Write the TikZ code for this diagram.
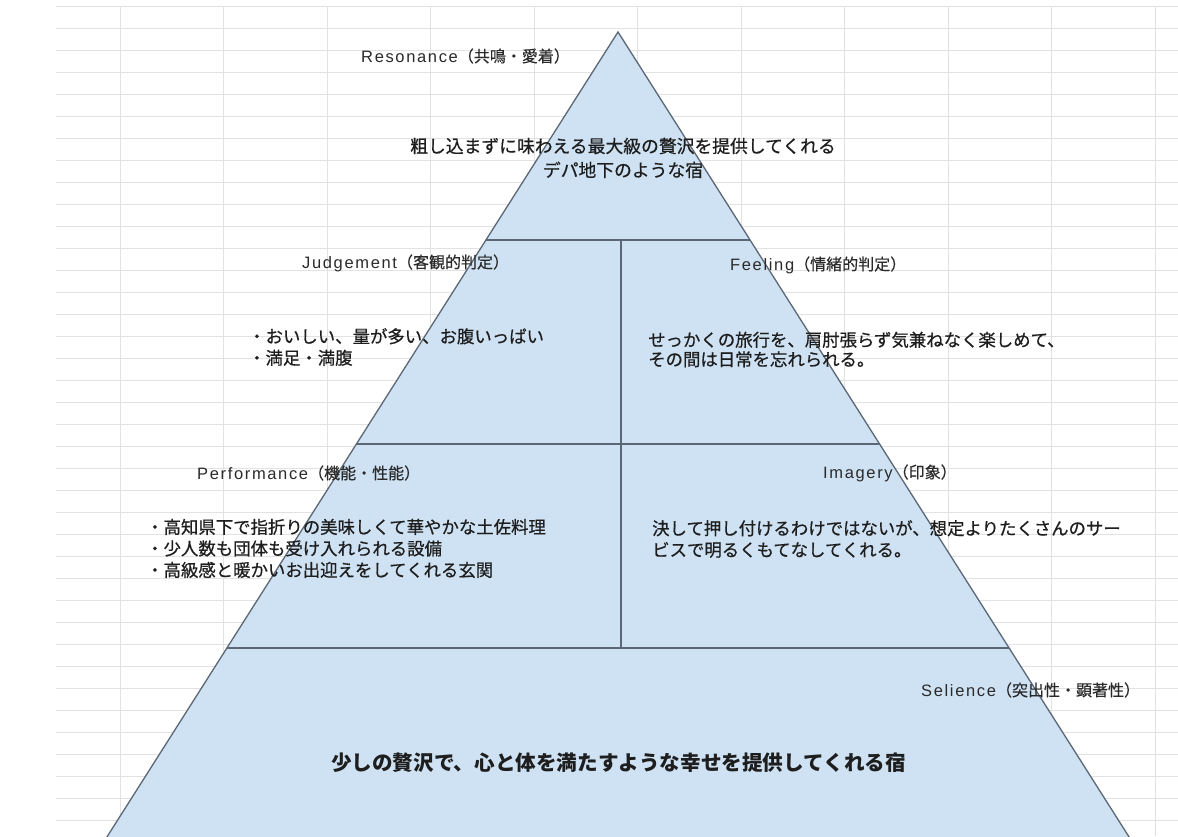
\documentclass[tikz,border=0pt]{standalone}
\usepackage{fontspec}
\setmainfont{Noto Sans CJK JP}
\newfontfamily\bodyfont{Noto Sans CJK JP}[FakeBold=0.6]
\newfontfamily\labcjk{Noto Sans CJK JP}[FakeBold=0.4]
\newfontfamily\lablat{Liberation Sans}[LetterSpace=10]
\newcommand{\lbl}[2]{{\fontsize{16.5}{18}\selectfont\lablat #1}{\fontsize{16}{18}\selectfont\labcjk #2}}
\definecolor{gridgray}{HTML}{E2E2E2}
\definecolor{pyrfill}{HTML}{CFE2F3}
\definecolor{pyrline}{HTML}{5B6775}
\definecolor{txt}{HTML}{1E1E1E}
\definecolor{labtxt}{HTML}{2A2A2A}
\tikzset{
  gridline/.style={draw=gridgray, line width=0.9pt},
  edge/.style={draw=pyrline, line width=1.3pt},
  lab/.style={inner sep=0pt, anchor=west, text=labtxt},
  body/.style={inner sep=0pt, anchor=west, align=left, text=txt, font=\fontsize{17.4}{21.5}\selectfont\bodyfont},
}
\begin{document}
\begin{tikzpicture}[x=1pt,y=-1pt]
\useasboundingbox (0,0) rectangle (1178,836);
\fill[white] (0,0) rectangle (1178,836);
% spreadsheet grid
\foreach \k in {0,...,37} \draw[gridline] (56,{6+22*\k}) -- (1178,{6+22*\k});
\foreach \k in {0,...,10} \draw[gridline] ({120+103.5*\k},6) -- ({120+103.5*\k},836);
% pyramid
\coordinate (apex) at (618,32);
\coordinate (bl) at (105,840);
\coordinate (br) at (1131,840);
\coordinate (l1) at (485.9,240); \coordinate (r1) at (750.1,240);
\coordinate (l2) at (356.4,444); \coordinate (r2) at (879.6,444);
\coordinate (l3) at (226.8,648); \coordinate (r3) at (1009.2,648);
\coordinate (mtop) at (621,240); \coordinate (mbot) at (621,648);
\fill[pyrfill] (apex) -- (br) -- (bl) -- cycle;
\draw[edge] (bl) -- (apex) -- (br);
\draw[edge] (l1) -- (r1);
\draw[edge] (l2) -- (r2);
\draw[edge] (l3) -- (r3);
\draw[edge] (mtop) -- (mbot);
% texts
\node[lab] (resL) at (361,56) {\lbl{Resonance}{（共鳴・愛着）}};
\node[body, anchor=center, align=center, font=\fontsize{17.8}{21.5}\selectfont\bodyfont] (resB) at (623,158) {粗し込まずに味わえる最大級の贅沢を提供してくれる\\[2.5pt]デパ地下のような宿};
\node[lab] (judL) at (302,263) {\lbl{Judgement}{（客観的判定）}};
\node[body] (judB) at (248,347) {・おいしい、量が多い、お腹いっぱい\\・満足・満腹};
\node[lab] (feelL) at (730,265) {\lbl{Feeling}{（情緒的判定）}};
\node[body, font=\fontsize{17.4}{19.5}\selectfont\bodyfont] (feelB) at (648,349.5) {せっかくの旅行を、肩肘張らず気兼ねなく楽しめて、\\その間は日常を忘れられる。};
\node[lab] (perfL) at (197,473) {\lbl{Performance}{（機能・性能）}};
\node[body] (perfB) at (146,548.5) {・高知県下で指折りの美味しくて華やかな土佐料理\\・少人数も団体も受け入れられる設備\\・高級感と暖かいお出迎えをしてくれる玄関};
\node[lab] (imgL) at (823,473) {\lbl{Imagery}{（印象）}};
\node[body] (imgB) at (652,539) {決して押し付けるわけではないが、想定よりたくさんのサー\\ビスで明るくもてなしてくれる。};
\node[lab] (selL) at (921,690) {\lbl{Selience}{（突出性・顕著性）}};
\node[inner sep=0pt, text=txt, font=\fontsize{20.6}{24}\selectfont\bfseries] (selB) at (618.5,763) {少しの贅沢で、心と体を満たすような幸せを提供してくれる宿};
\end{tikzpicture}
\end{document}
